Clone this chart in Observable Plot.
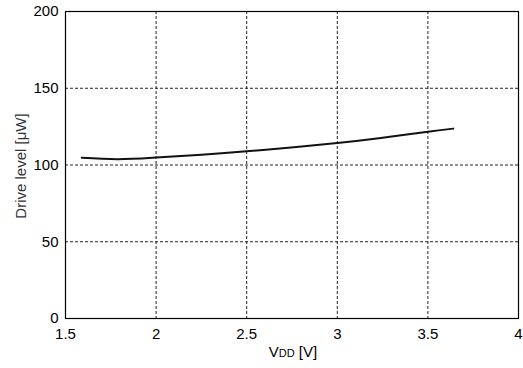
<!DOCTYPE html>
<html>
<head>
<meta charset="utf-8">
<script src="https://cdn.jsdelivr.net/npm/d3@7"></script>
<script src="https://cdn.jsdelivr.net/npm/@observablehq/plot@0.6"></script>
<style>
  html, body { margin: 0; padding: 0; background: #fff; }
</style>
</head>
<body>
<div id="chart"></div>
<script>
// Data
const vdd = [1.59, 1.79, 2.0, 2.25, 2.5, 2.76, 3.0, 3.24, 3.5, 3.64];
const driveLevel = [104.7, 103.8, 104.9, 106.7, 108.9, 111.5, 114.3, 117.6, 121.7, 123.7];
const xTicks = [1.5, 2, 2.5, 3, 3.5, 4];
const yTicks = [0, 50, 100, 150, 200];
const xGrid = [2, 2.5, 3, 3.5];
const yGrid = [50, 100, 150];

const data = vdd.map((v, i) => ({x: v, y: driveLevel[i]}));

const chart = Plot.plot({
  width: 523,
  height: 368,
  marginLeft: 65,
  marginTop: 11,
  marginRight: 5,
  marginBottom: 50,
  style: {fontFamily: "Liberation Sans, Arial, sans-serif", fontSize: "15px", color: "#000", background: "#fff"},
  x: {domain: [1.5, 4], ticks: xTicks, tickFormat: d => String(d), label: null},
  y: {domain: [0, 200], ticks: yTicks, tickFormat: d => String(d), label: null},
  marks: [
    Plot.ruleX(xGrid, {stroke: "#222", strokeWidth: 1, strokeDasharray: "3,2"}),
    Plot.ruleY(yGrid, {stroke: "#222", strokeWidth: 1, strokeDasharray: "3,2"}),
    Plot.axisX({ticks: xTicks, tickSize: 0, tickPadding: 10, fontSize: 15, tickFormat: d => String(d), label: null}),
    Plot.axisY({ticks: yTicks, tickSize: 0, tickPadding: 7, fontSize: 15, tickFormat: d => String(d), label: null}),
    Plot.frame({stroke: "#000", strokeWidth: 1.2}),
    Plot.line(data, {x: "x", y: "y", stroke: "#111", strokeWidth: 2, curve: "natural"})
  ]
});

// Axis titles with small-caps style "DD"
const svg = d3.select(chart);
const xt = svg.append("text")
  .attr("x", 293).attr("y", 357)
  .attr("text-anchor", "middle")
  .attr("font-size", 15)
  .attr("fill", "#000");
xt.append("tspan").text("V");
xt.append("tspan").attr("font-size", 11).text("DD");
xt.append("tspan").text(" [V]");

svg.append("text")
  .attr("transform", "translate(26,166) rotate(-90)")
  .attr("text-anchor", "middle")
  .attr("font-size", 15)
  .attr("fill", "#333")
  .text("Drive level [μW]");

document.getElementById("chart").appendChild(chart);
</script>
</body>
</html>
